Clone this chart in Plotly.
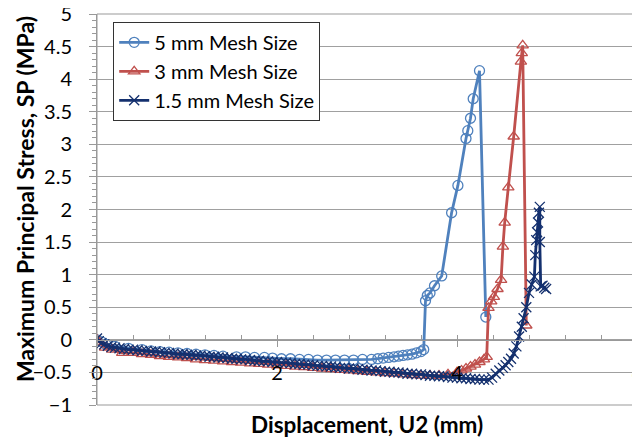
import plotly.graph_objects as go

# 5 mm mesh
X_5MM = [0, 0.05, 0.1, 0.2, 0.35, 0.5, 0.6, 0.7, 0.8, 0.9, 1.0, 1.1, 1.2, 1.3,
         1.4, 1.55, 1.65, 1.75, 1.86, 1.95, 2.05, 2.15, 2.25, 2.35, 2.45, 2.55,
         2.65, 2.75, 2.85, 2.95, 3.05, 3.12, 3.18, 3.24, 3.3, 3.35, 3.4, 3.45,
         3.5, 3.55, 3.6, 3.63, 3.65, 3.67, 3.70, 3.75, 3.83, 3.94, 4.01, 4.10,
         4.12, 4.15, 4.18, 4.25, 4.32]
Y_5MM = [0, -0.03, -0.07, -0.1, -0.13, -0.15, -0.17, -0.18, -0.19, -0.2, -0.21,
         -0.22, -0.23, -0.24, -0.25, -0.26, -0.26, -0.27, -0.27, -0.28, -0.29,
         -0.29, -0.3, -0.3, -0.31, -0.31, -0.31, -0.31, -0.31, -0.3, -0.3, -0.29,
         -0.28, -0.27, -0.26, -0.25, -0.24, -0.23, -0.22, -0.2, -0.18, -0.15,
         0.6, 0.68, 0.72, 0.83, 0.98, 1.95, 2.37, 3.09, 3.21, 3.40, 3.70, 4.13,
         0.35]

# 3 mm mesh
X_3MM = [0, 0.03, 0.09, 0.17, 0.28, 0.4, 0.5, 0.6, 0.7, 0.8, 0.9, 1.0, 1.1, 1.2,
         1.3, 1.4, 1.5, 1.6, 1.7, 1.8, 1.9, 2.0, 2.1, 2.2, 2.3, 2.4, 2.5, 2.6,
         2.7, 2.8, 2.9, 3.0, 3.1, 3.2, 3.3, 3.4, 3.5, 3.6, 3.7, 3.8, 3.9, 4.0,
         4.05, 4.1, 4.15, 4.2, 4.25, 4.3, 4.33, 4.35, 4.38, 4.41, 4.45, 4.49,
         4.51, 4.53, 4.57, 4.63, 4.71, 4.72, 4.73, 4.77]
Y_3MM = [0, -0.04, -0.12, -0.15, -0.2, -0.2, -0.22, -0.23, -0.25, -0.26, -0.27,
         -0.28, -0.3, -0.31, -0.32, -0.33, -0.34, -0.35, -0.36, -0.37, -0.38,
         -0.39, -0.4, -0.41, -0.42, -0.43, -0.44, -0.45, -0.46, -0.47, -0.48,
         -0.49, -0.5, -0.51, -0.52, -0.53, -0.54, -0.55, -0.55, -0.55, -0.53,
         -0.5, -0.47, -0.44, -0.41, -0.38, -0.34, -0.3, -0.26, 0.49, 0.59, 0.66,
         0.78, 0.92, 1.43, 1.80, 2.34, 3.12, 4.27, 4.40, 4.52, 0.22]

# 1.5 mm mesh
X_15MM = [0, 0.02, 0.05, 0.08, 0.12, 0.16, 0.2, 0.25, 0.3, 0.35, 0.4, 0.45, 0.5,
          0.55, 0.6, 0.65, 0.7, 0.75, 0.8, 0.85, 0.9, 0.95, 1.0, 1.05, 1.1, 1.15,
          1.2, 1.25, 1.3, 1.35, 1.4, 1.45, 1.5, 1.55, 1.6, 1.65, 1.7, 1.75, 1.8,
          1.85, 1.9, 1.95, 2.0, 2.05, 2.1, 2.15, 2.2, 2.25, 2.3, 2.35, 2.4, 2.45,
          2.5, 2.55, 2.6, 2.65, 2.7, 2.75, 2.8, 2.85, 2.9, 2.95, 3.0, 3.05, 3.1,
          3.15, 3.2, 3.25, 3.3, 3.35, 3.4, 3.45, 3.5, 3.55, 3.6, 3.65, 3.7, 3.75,
          3.8, 3.85, 3.9, 3.95, 4.0, 4.05, 4.1, 4.15, 4.2, 4.25, 4.3, 4.35, 4.39,
          4.43, 4.47, 4.51, 4.54, 4.57, 4.6, 4.63, 4.66, 4.69, 4.72, 4.74, 4.77,
          4.80, 4.83, 4.86, 4.87, 4.88, 4.89, 4.9, 4.91, 4.92, 4.92, 4.93, 4.95,
          4.97, 4.99]
Y_15MM = [0.02, -0.02, -0.05, -0.07, -0.09, -0.11, -0.12, -0.13, -0.14, -0.15,
          -0.15, -0.16, -0.17, -0.17, -0.18, -0.18, -0.19, -0.2, -0.2, -0.21,
          -0.22, -0.22, -0.23, -0.23, -0.24, -0.24, -0.25, -0.26, -0.26, -0.27,
          -0.27, -0.28, -0.29, -0.29, -0.3, -0.3, -0.31, -0.32, -0.32, -0.33,
          -0.33, -0.34, -0.34, -0.35, -0.35, -0.36, -0.37, -0.37, -0.38, -0.38,
          -0.39, -0.4, -0.4, -0.41, -0.41, -0.42, -0.43, -0.43, -0.44, -0.44,
          -0.45, -0.46, -0.46, -0.47, -0.47, -0.48, -0.49, -0.49, -0.5, -0.5,
          -0.51, -0.52, -0.52, -0.53, -0.53, -0.54, -0.55, -0.55, -0.56, -0.56,
          -0.57, -0.58, -0.58, -0.59, -0.59, -0.6, -0.6, -0.61, -0.61, -0.61,
          -0.58, -0.52, -0.47, -0.43, -0.39, -0.34, -0.29, -0.21, -0.1, 0.05,
          0.2, 0.33, 0.5, 0.72, 0.85, 0.97, 1.3, 1.53, 1.65, 1.8, 1.95, 2.04,
          1.5, 0.82, 0.83, 0.8, 0.78]

SERIES = [
    ("5 mm Mesh Size", X_5MM, Y_5MM, "#4F81BD", "circle-open"),
    ("3 mm Mesh Size", X_3MM, Y_3MM, "#C0504D", "triangle-up-open"),
    ("1.5 mm Mesh Size", X_15MM, Y_15MM, "#14306E", "x-thin-open"),
]

FONT = "Lato"
AXIS_GREY = "#999999"

fig = go.Figure()

for name, xs, ys, color, symbol in SERIES:
    fig.add_trace(
        go.Scatter(
            x=xs,
            y=ys,
            name=name,
            mode="lines+markers",
            line=dict(color=color, width=2.8),
            marker=dict(
                symbol=symbol,
                size=10,
                color=color,
                line=dict(color=color, width=1.3),
            ),
        )
    )

# page body has an 8px margin, so the figure is 8px smaller than the window
fig.update_layout(
    width=632,
    height=434,
    margin=dict(l=89, r=3, t=6, b=37),
    paper_bgcolor="white",
    plot_bgcolor="white",
    font=dict(family=FONT, color="black", size=20),
    showlegend=True,
    legend=dict(
        x=0.03,
        y=0.98,
        xanchor="left",
        yanchor="top",
        bgcolor="white",
        bordercolor="#333333",
        borderwidth=1,
        font=dict(size=20),
        tracegroupgap=0,
        itemwidth=30,
    ),
    xaxis=dict(
        range=[0, 6],
        dtick=2,
        showgrid=False,
        zeroline=False,
        showline=True,
        linecolor=AXIS_GREY,
        anchor="free",
        position=1 / 6,
        ticks="outside",
        ticklen=6,
        tickcolor=AXIS_GREY,
        ticklabelstandoff=9,
        ticklabeloverflow="allow",
        minor=dict(dtick=0.4, ticks="inside", ticklen=5, tickcolor=AXIS_GREY),
        automargin=False,
        tickfont=dict(size=20),
    ),
    yaxis=dict(
        range=[-1, 5],
        dtick=0.5,
        showgrid=True,
        gridcolor="#a0a0a0",
        zeroline=False,
        showline=True,
        linecolor=AXIS_GREY,
        ticks="outside",
        ticklen=7,
        tickcolor=AXIS_GREY,
        ticklabelstandoff=13,
        ticklabeloverflow="allow",
        minor=dict(dtick=0.1, ticks="outside", ticklen=4, tickcolor=AXIS_GREY),
        automargin=False,
        tickfont=dict(size=20),
    ),
    annotations=[
        dict(
            text="<b>Displacement, U2 (mm)</b>",
            x=0.5,
            y=-0.049,
            xref="paper",
            yref="paper",
            yanchor="middle",
            showarrow=False,
            font=dict(size=22.5),
        ),
        dict(
            text="<b>Maximum Principal Stress, SP (MPa)</b>",
            x=-0.133,
            y=0.527,
            xref="paper",
            yref="paper",
            xanchor="center",
            yanchor="middle",
            textangle=-90,
            showarrow=False,
            font=dict(size=23),
        ),
    ],
    shapes=[
        dict(
            type="rect",
            xref="paper",
            yref="paper",
            x0=0,
            x1=1,
            y0=0,
            y1=1,
            line=dict(color=AXIS_GREY, width=1),
            layer="below",
        )
    ],
)

fig.write_html("out.html")
